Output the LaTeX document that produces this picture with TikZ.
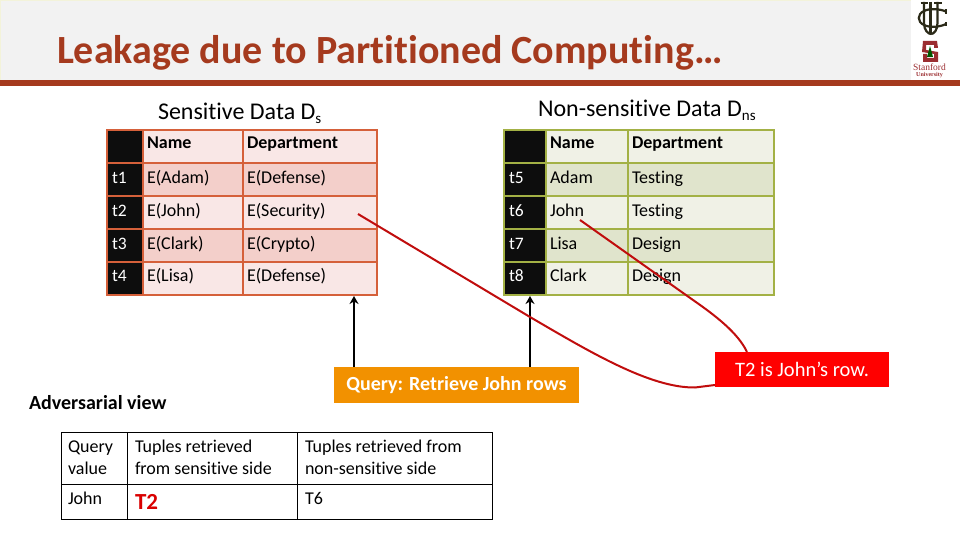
\documentclass[tikz,border=0pt]{standalone}
\usepackage{fontspec}
\setmainfont[Ligatures=CommonOff]{Carlito}
\newfontfamily\logoserif{Liberation Serif}
\usetikzlibrary{arrows.meta}
\definecolor{titlered}{HTML}{A53A1E}
\definecolor{band}{HTML}{F2F2F2}
\definecolor{dsline}{HTML}{D5603A}
\definecolor{dslight}{HTML}{F9E7E6}
\definecolor{dsdark}{HTML}{F3CFCA}
\definecolor{nsline}{HTML}{A3B145}
\definecolor{nslight}{HTML}{F0F1E6}
\definecolor{nsdark}{HTML}{E0E4CC}
\definecolor{headblack}{HTML}{0D0D0D}
\definecolor{qorange}{HTML}{F29100}
\definecolor{curvered}{HTML}{C00D0D}
\definecolor{logodark}{HTML}{2B2A18}
\definecolor{stanred}{HTML}{9B2D30}
\tikzset{
  every node/.style={inner sep=0pt,outer sep=0pt},
  celltext/.style={anchor=base west,font=\fontsize{18}{18}\selectfont,text=black},
  headtext/.style={anchor=base west,font=\bfseries\fontsize{18}{18}\selectfont,text=black},
  idtext/.style={anchor=base west,font=\fontsize{17.5}{18}\selectfont,text=white},
  tabletitle/.style={anchor=base west,font=\fontsize{24}{24}\selectfont,text=black},
  advtext/.style={anchor=base west,font=\fontsize{18}{18}\selectfont,text=black},
  arrowline/.style={draw=black,line width=1.8pt,-{Stealth[length=8pt,width=9pt]}},
  curveline/.style={draw=curvered,line width=2pt},
  dsgrid/.style={draw=dsline,line width=2pt},
  nsgrid/.style={draw=nsline,line width=2pt},
  advgrid/.style={draw=black,line width=.8pt},
}
\newcommand{\subs}[1]{\raisebox{-4pt}{\fontsize{15}{15}\selectfont #1}}
\begin{document}
\begin{tikzpicture}[x=1pt,y=-1pt]
\useasboundingbox (0,0) rectangle (960,540);
% title band
\fill[band] (0,0) rectangle (911,80);
\draw[draw=band!90!yellow,line width=.6pt] (.5,.5) -- (.5,80) (0,.5) -- (911,.5);
\fill[titlered] (0,80) rectangle (960,86);
\node[anchor=base west,font=\bfseries\fontsize{40}{40}\selectfont,text=titlered] (title) at (57,63.5) {Leakage due to Partitioned Computing…};
% UC logo
\begin{scope}[draw=logodark,line width=2.2pt]
\draw (924,2) -- (924,23) .. controls (924,30) and (928,34) .. (931,34);
\draw (937.5,2) -- (937.5,23) .. controls (937.5,30) and (934,34) .. (931,34);
\draw (934,3) -- (941.5,3) (920.5,3) -- (927.5,3);
\draw[line width=2.6pt] (930.5,2) -- (930.5,33);
\draw (946,11.5) .. controls (940,9) and (930,8) .. (924,11) .. controls (917,14) and (917,22) .. (924,25) .. controls (930,28) and (940,27) .. (946,24);
\draw (946,9.5) -- (946,14) (946,22) -- (946,26.5);
\end{scope}
% Stanford logo
\fill[stanred] (923,41) -- (937,41) -- (938,48) -- (934,48) -- (934,45) -- (926,45) -- (926,50) -- (938,52) -- (938,62) -- (923,62) -- (923,54) -- (927,54) -- (927,58) -- (934,58) -- (934,54) -- (922,52) -- cycle;
\fill[green!35!black] (930,46) -- (933,57) -- (927,57) -- cycle;
\node[font=\logoserif\fontsize{9.5}{9}\selectfont,text=stanred] (stanford) at (929.5,67.5) {Stanford};
\node[font=\logoserif\bfseries\fontsize{6}{6}\selectfont,text=stanred] (university) at (929.5,75.5) {University};
% table titles
\node[tabletitle] (dstitle) at (158,120) {Sensitive Data D\subs{s}};
\node[tabletitle] (nstitle) at (538,117) {Non-sensitive Data D\subs{ns}};
% sensitive table
\fill[dslight] (107,130) rectangle (377,295);
\fill[dsdark] (143,163) rectangle (377,196) (143,229) rectangle (377,262);
\fill[headblack] (107,130) rectangle (143,295);
\draw[dsgrid] (107,130) rectangle (377,295);
\foreach \yy in {163,196,229,262} \draw[dsgrid] (107,\yy) -- (377,\yy);
\foreach \xx in {143,243} \draw[dsgrid] (\xx,130) -- (\xx,295);
\coordinate (dsbottom) at (354,296);
\node[headtext] (dsh1) at (147,149) {Name};
\node[headtext] (dsh2) at (247,149) {Department};
\foreach \n/\yy/\idt/\nm/\dep in {1/183/t1/E(Adam)/E(Defense),2/216/t2/E(John)/E(Security),3/249/t3/E(Clark)/E(Crypto),4/281.5/t4/E(Lisa)/E(Defense)}{
  \node[idtext] (dsid\n) at (112,\yy) {\idt};
  \node[celltext] (dsname\n) at (147,\yy) {\nm};
  \node[celltext] (dsdep\n) at (247,\yy) {\dep};
}
% non-sensitive table
\fill[nslight] (504,130) rectangle (774,295);
\fill[nsdark] (546,163) rectangle (774,196) (546,229) rectangle (774,262);
\fill[headblack] (504,130) rectangle (546,295);
\draw[nsgrid] (504,130) rectangle (774,295);
\foreach \yy in {163,196,229,262} \draw[nsgrid] (504,\yy) -- (774,\yy);
\foreach \xx in {546,628} \draw[nsgrid] (\xx,130) -- (\xx,295);
\coordinate (nsbottom) at (530,296);
\node[headtext] (nsh1) at (550,149) {Name};
\node[headtext] (nsh2) at (632,149) {Department};
\foreach \n/\yy/\idt/\nm/\dep in {1/183/t5/Adam/Testing,2/216/t6/John/Testing,3/249/t7/Lisa/Design,4/281.5/t8/Clark/Design}{
  \node[idtext] (nsid\n) at (509,\yy) {\idt};
  \node[celltext] (nsname\n) at (550,\yy) {\nm};
  \node[celltext] (nsdep\n) at (632,\yy) {\dep};
}
% query and note
\node[fill=qorange,minimum width=245pt,minimum height=36pt,text=white,font=\bfseries\fontsize{20}{20}\selectfont] (query) at (456.5,385) {\raisebox{-1pt}{Query: Retrieve John rows}};
\node[fill=red,minimum width=174pt,minimum height=35pt,text=white,font=\fontsize{20.5}{20}\selectfont] (note) at (802,369.5) {\raisebox{-1pt}{T2 is John’s row.}};
\coordinate (qa) at (354,367);
\coordinate (qb) at (530,367);
\draw[arrowline] (qa) -- (dsbottom);
\draw[arrowline] (qb) -- (nsbottom);
\coordinate (cone) at (358,214);
\coordinate (ctwo) at (580,220);
\coordinate (noteL) at (715,385);
\coordinate (noteT) at (747,352);
\draw[curveline] (cone) -- (530,317) .. controls (590,352) and (650,388) .. (695,387.5) -- (noteL);
\draw[curveline] (ctwo) -- (693,300) .. controls (716,316) and (738,333) .. (noteT);
% adversarial view
\node[anchor=base west,font=\bfseries\fontsize{20}{20}\selectfont,text=black] (advtitle) at (29,409) {Adversarial view};
\draw[advgrid] (61,432) rectangle (492,519);
\draw[advgrid] (61,484) -- (492,484) (127,432) -- (127,519) (297,432) -- (297,519);
\node[advtext] (a1) at (68,452) {Query};
\node[advtext] (a2) at (68,474) {value};
\node[advtext] (a3) at (135,452) {Tuples retrieved};
\node[advtext] (a4) at (135,474) {from sensitive side};
\node[advtext] (a5) at (305,452) {Tuples retrieved from};
\node[advtext] (a6) at (305,474) {non-sensitive side};
\node[advtext] (a7) at (68,504) {John};
\node[anchor=base west,font=\bfseries\fontsize{23}{23}\selectfont,text=red!85!black] (a8) at (135,509) {T2};
\node[advtext] (a9) at (305,504) {T6};
\end{tikzpicture}
\end{document}
